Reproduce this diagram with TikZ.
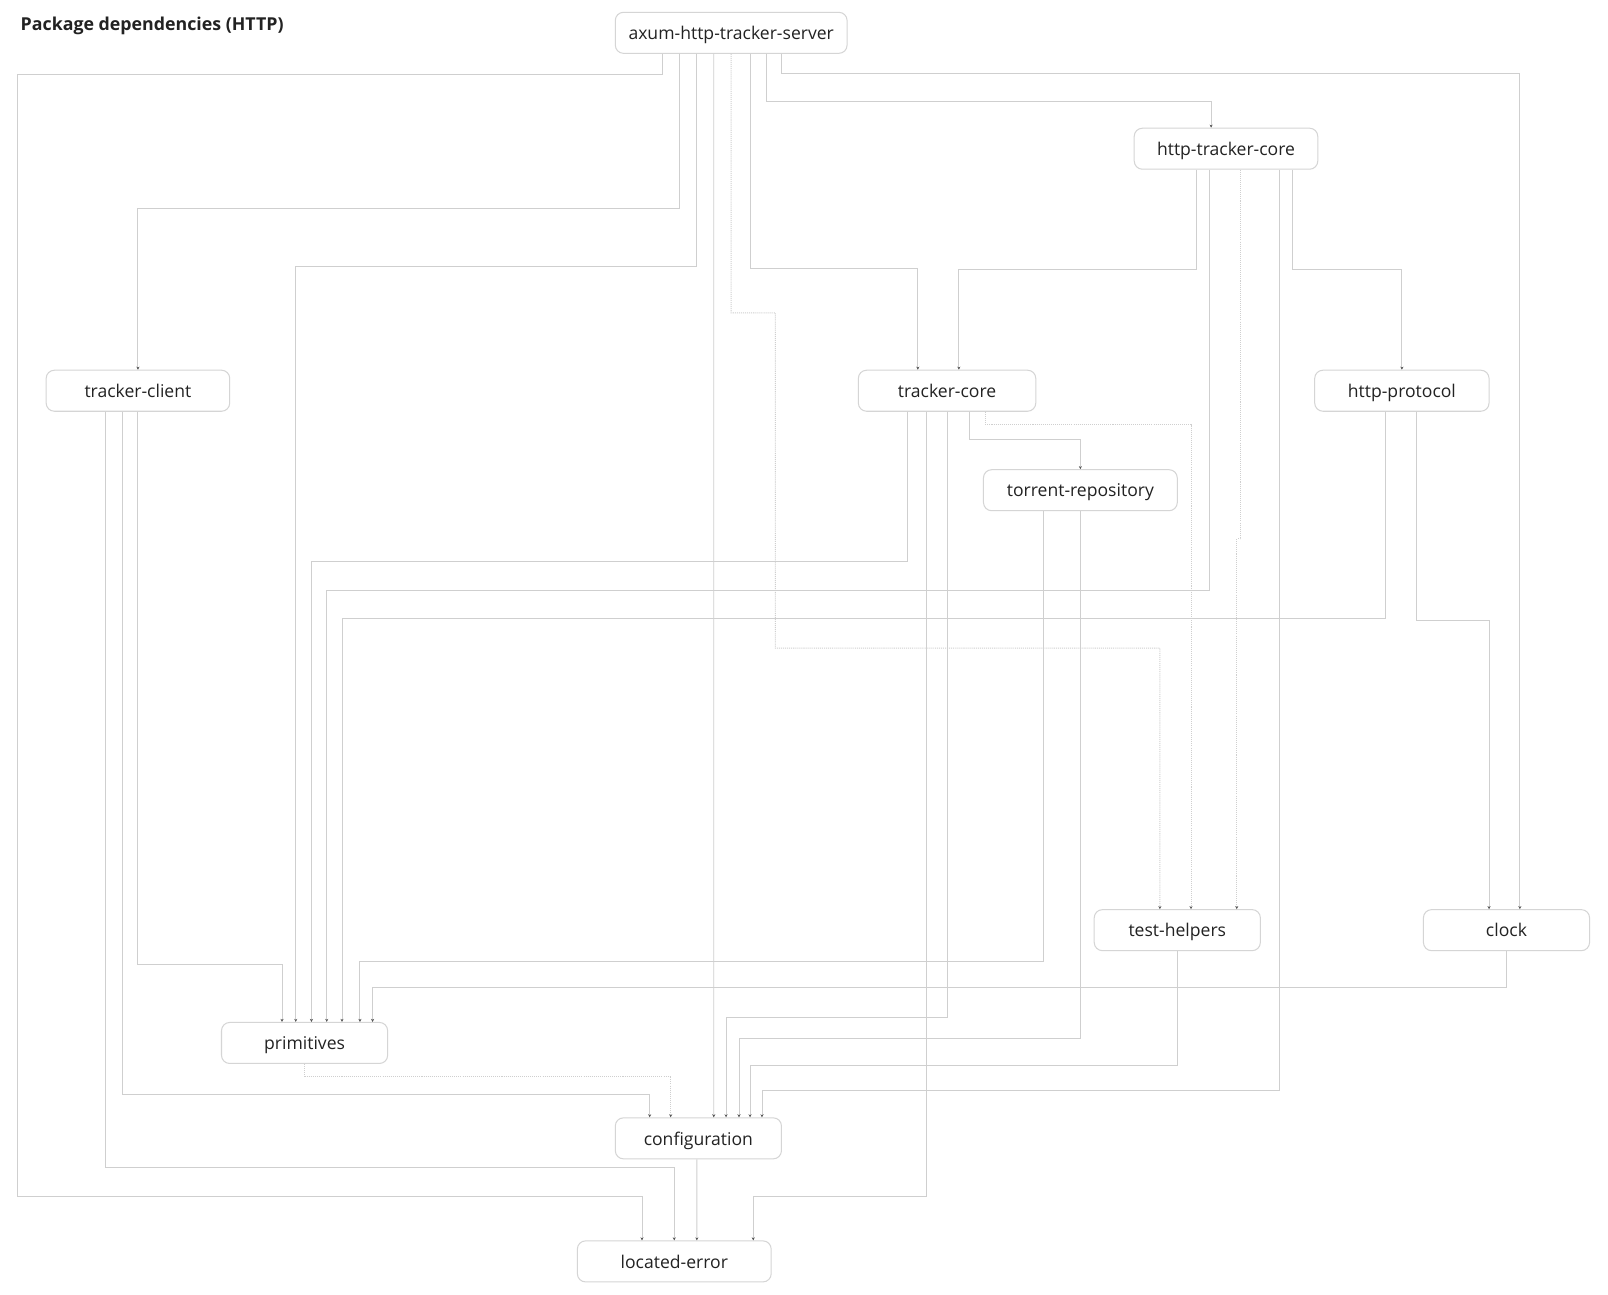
\documentclass[tikz,border=0pt]{standalone}
\usepackage{fontspec}
\setmainfont{Open Sans}
\usetikzlibrary{arrows.meta}
\definecolor{edge}{HTML}{CFCFCF}
\definecolor{frame}{HTML}{D5D5D5}
\definecolor{ink}{HTML}{222222}
\definecolor{tipcol}{HTML}{555555}

\begin{document}
\begin{tikzpicture}[x=1bp,y=-1bp,
  pkg/.style={draw=frame, line width=1bp, rounded corners=8bp, fill=white,
    minimum height=40bp, inner sep=0pt, text=ink,
    text height=13bp, text depth=0pt,
    font=\fontsize{17.2}{20}\selectfont},
  dep/.style={draw=edge, line width=0.9bp,
    -{Stealth[length=3bp,width=3bp,color=tipcol]}},
  devdep/.style={dep, dash pattern=on 1bp off 1bp}]

% canvas
\fill[white] (0,0) rectangle (1568,1262);
\useasboundingbox (0,0) rectangle (1568,1262);

\node[anchor=base west, inner sep=0pt, text=ink,
  font=\bfseries\fontsize{17.4}{20}\selectfont] (title) at (20,30)
  {Package dependencies (HTTP)};

% packages
\node[pkg, minimum width=226bp] (axum)    at (713,32)     {axum-http-tracker-server};
\node[pkg, minimum width=179bp] (htcore)  at (1195.5,145) {http-tracker-core};
\node[pkg, minimum width=179bp] (tclient) at (134.5,381)  {tracker-client};
\node[pkg, minimum width=173bp] (tcore)   at (923.5,381)  {tracker-core};
\node[pkg, minimum width=170bp] (hproto)  at (1367,381)   {http-protocol};
\node[pkg, minimum width=189bp] (trepo)   at (1053.5,478) {torrent-repository};
\node[pkg, minimum width=162bp] (testh)   at (1148,907)   {test-helpers};
\node[pkg, minimum width=162bp] (clock)   at (1469,907)   {clock};
\node[pkg, minimum width=162bp] (prim)    at (297,1017)   {primitives};
\node[pkg, minimum width=162bp] (config)  at (681,1110)   {configuration};
\node[pkg, minimum width=189bp] (locerr)  at (657.5,1230) {located-error};

% axum-http-tracker-server
\draw[dep] ([xshift=-67bp]axum.south) |- (17,73) -- (17,1167) -| ([xshift=-31.5bp]locerr.north);
\draw[dep] ([xshift=-50bp]axum.south) -- ++(0,151) -| (tclient.north);
\draw[dep] ([xshift=-34bp]axum.south) -- ++(0,207) -| ([xshift=-8.6bp]prim.north);
\draw[dep] ([xshift=-17bp]axum.south) -- ([xshift=15bp]config.north);
\draw[devdep] (axum.south) |- (756,305) |- (1131,632) -- ([xshift=-17bp]testh.north);
\draw[dep] ([xshift=19bp]axum.south) -- ++(0,209) -| ([xshift=-28.5bp]tcore.north);
\draw[dep] ([xshift=34bp]axum.south) -- ++(0,46) -| ([xshift=-14.5bp]htcore.north);
\draw[dep] ([xshift=49bp]axum.south) -- ++(0,19) -| ([xshift=13bp]clock.north);

% http-tracker-core
\draw[dep] ([xshift=-29bp]htcore.south) -- ++(0,97) -| ([xshift=11.5bp]tcore.north);
\draw[dep] ([xshift=-16bp]htcore.south) -- ++(0,410) -| ([xshift=21.6bp]prim.north);
\draw[devdep] ([xshift=14.3bp]htcore.south) -- ++(0,360) -| ([xshift=58bp]testh.north);
\draw[dep] ([xshift=52.5bp]htcore.south) -- ++(0,898) -| ([xshift=62bp]config.north);
\draw[dep] ([xshift=64.5bp]htcore.south) -- ++(0,97) -| (hproto.north);

% tracker-client
\draw[dep] ([xshift=-31.5bp]tclient.south) -- ++(0,737) -| (locerr.north);
\draw[dep] ([xshift=-15.5bp]tclient.south) -- ++(0,666) -| ([xshift=-47.5bp]config.north);
\draw[dep] (tclient.south) -- ++(0,539) -| ([xshift=-22bp]prim.north);

% tracker-core
\draw[dep] ([xshift=-38.7bp]tcore.south) -- ++(0,146) -| ([xshift=6.7bp]prim.north);
\draw[dep] ([xshift=-20.2bp]tcore.south) -- ++(0,765) -| ([xshift=77bp]locerr.north);
\draw[dep] (tcore.south) -- ++(0,591) -| ([xshift=27bp]config.north);
\draw[dep] ([xshift=21.7bp]tcore.south) -- ++(0,27.4) -| (trepo.north);
\draw[devdep] ([xshift=37.3bp]tcore.south) -- ++(0,12) -| ([xshift=13.4bp]testh.north);

% torrent-repository
\draw[dep] ([xshift=-36bp]trepo.south) -- ++(0,439) -| ([xshift=54bp]prim.north);
\draw[dep] (trepo.south) -- ++(0,514) -| ([xshift=39.6bp]config.north);

% http-protocol
\draw[dep] ([xshift=-15.8bp]hproto.south) -- ++(0,202) -| ([xshift=36.5bp]prim.north);
\draw[dep] ([xshift=14.4bp]hproto.south) -- ++(0,204) -| ([xshift=-17bp]clock.north);

% test-helpers, clock, primitives, configuration
\draw[dep] (testh.south) -- ++(0,111) -| ([xshift=50.4bp]config.north);
\draw[dep] (clock.south) -- ++(0,35) -| ([xshift=66.3bp]prim.north);
\draw[devdep] (prim.south) -- ++(0,12) -| ([xshift=-27bp]config.north);
\draw[dep] ([xshift=-1.5bp]config.south) -- ([xshift=22bp]locerr.north);

\end{tikzpicture}
\end{document}
